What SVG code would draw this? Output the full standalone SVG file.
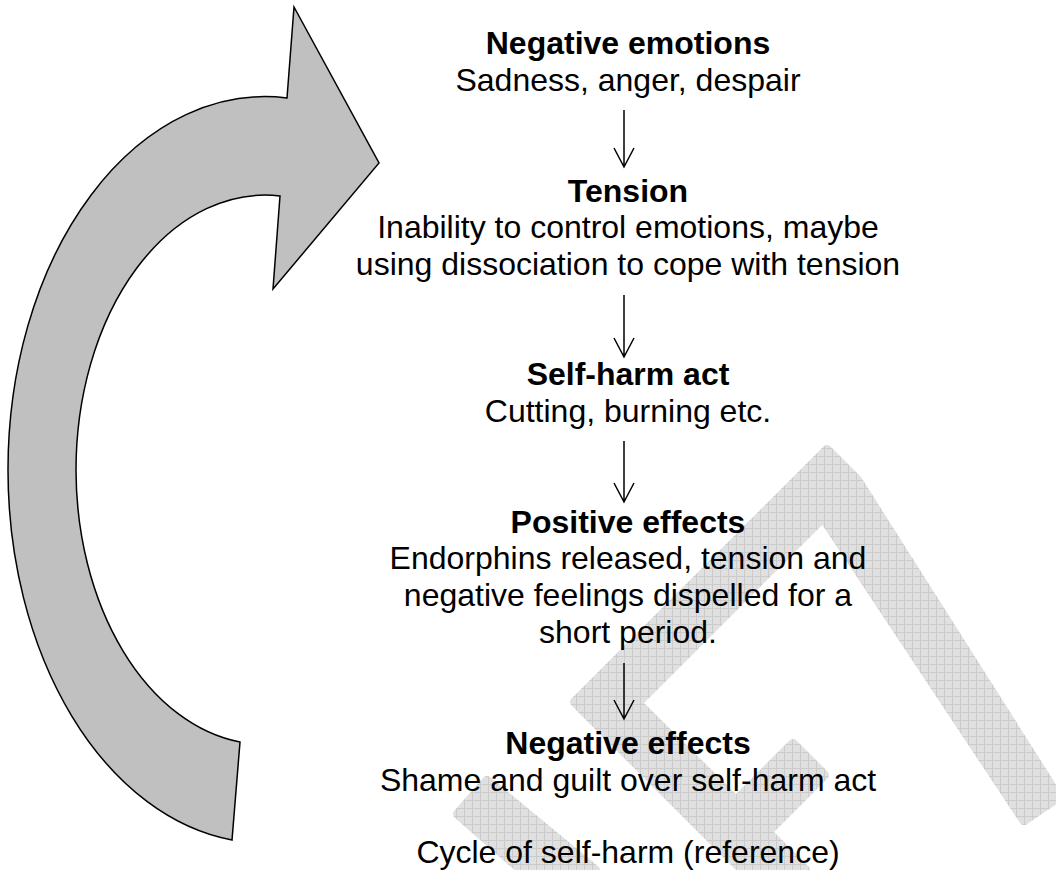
<svg xmlns="http://www.w3.org/2000/svg" width="1056" height="870" viewBox="0 0 1056 870">
<defs>
<pattern id="grid" width="8" height="8" patternUnits="userSpaceOnUse">
<rect width="8" height="8" fill="#e0e0e0"/>
<path d="M0 0.5H8M0.5 0V8" stroke="#cbcbcb" stroke-width="1"/>
</pattern>
<style>
.wm{fill:url(#grid);stroke:url(#grid);stroke-width:10;stroke-linejoin:round}
.h{font-family:"Liberation Sans",Arial,sans-serif;font-size:32px;font-weight:bold;text-anchor:middle;fill:#000}
.t{font-family:"Liberation Sans",Arial,sans-serif;font-size:32px;text-anchor:middle;fill:#000}
.conn{fill:none;stroke:#000;stroke-width:1.5}
</style>
</defs>
<rect width="1056" height="870" fill="#fff"/>
<g id="watermark">
<polygon class="wm" points="827,450 857,480 1058,797 1024,820 823,517 637,703 736,801 793,744 824,775 767,832 805,870 743,870 575,702"/>
<polygon class="wm" points="458,814 487,781 595,870 522,870"/>
</g>
<g id="cycle-arrow">
<path d="M232 840 A257 373 0 0 1 8 470 A257 373 0 0 1 287 98 L294 7 L379 163 L273 289 L280 196 A189 275 0 0 0 76 470 A189 275 0 0 0 240 742 Z" fill="#c0c0c0" stroke="#000" stroke-width="1.5" stroke-linejoin="miter"/>
</g>
<g id="connectors">
<path class="conn" d="M624 110V167M614 148L624 167L634 148"/>
<path class="conn" d="M624 295V357M614 338L624 357L634 338"/>
<path class="conn" d="M624 441V502M614 483L624 502L634 483"/>
<path class="conn" d="M624 663V719M614 700L624 719L634 700"/>
</g>
<g id="node-negative-emotions">
<text class="h" x="628" y="54">Negative emotions</text>
<text class="t" x="628" y="91">Sadness, anger, despair</text>
</g>
<g id="node-tension">
<text class="h" x="628" y="202">Tension</text>
<text class="t" x="628" y="238">Inability to control emotions, maybe</text>
<text class="t" x="628" y="275">using dissociation to cope with tension</text>
</g>
<g id="node-self-harm-act">
<text class="h" x="628" y="385">Self-harm act</text>
<text class="t" x="628" y="422">Cutting, burning etc.</text>
</g>
<g id="node-positive-effects">
<text class="h" x="628" y="533">Positive effects</text>
<text class="t" x="628" y="569">Endorphins released, tension and</text>
<text class="t" x="628" y="606">negative feelings dispelled for a</text>
<text class="t" x="628" y="643">short period.</text>
</g>
<g id="node-negative-effects">
<text class="h" x="628" y="754">Negative effects</text>
<text class="t" x="628" y="791">Shame and guilt over self-harm act</text>
</g>
<g id="caption">
<text class="t" x="628" y="863">Cycle of self-harm (reference)</text>
</g>
</svg>
